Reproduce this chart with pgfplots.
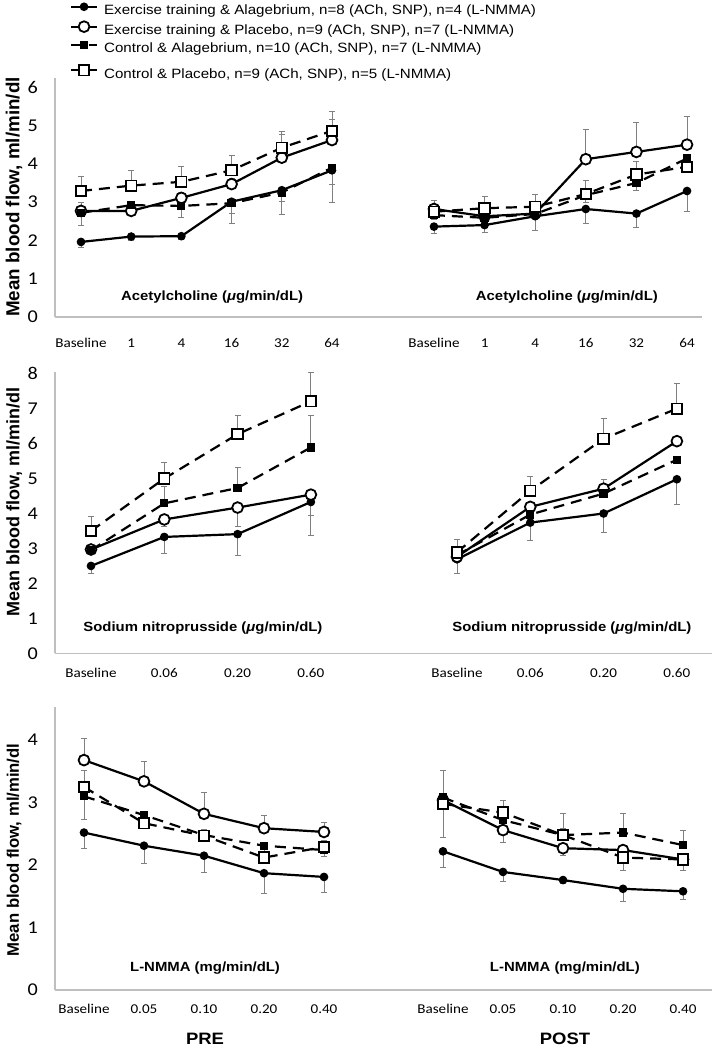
\documentclass[border=0pt]{standalone}
\usepackage{fontspec}
\setmainfont{Liberation Sans}[FakeStretch=1.12]
\newfontfamily\ylabfont{Liberation Sans}
\newfontfamily\calfont{Carlito}[FakeStretch=1.12]
\usepackage{pgfplots}
\pgfplotsset{compat=1.18}

\pgfplotsset{
  panel/.style={
    scale only axis, clip=false,
    axis x line*=bottom,
    axis line style={gray!50, line width=1.3pt},
    major tick length=0pt,
    tick style={draw=none},
    /pgf/number format/assume math mode=true,
    xticklabel style={font=\calfont\fontsize{13.5}{14}\selectfont, anchor=center},
    yticklabel style={font=\calfont\fontsize{18}{18}\selectfont, anchor=east, inner sep=0pt, xshift=-17pt},
    xlabel style={font=\bfseries\fontsize{13.3}{14}\selectfont, anchor=center},
    ylabel style={anchor=center},
    error bars/error bar style={solid, gray, line width=0.8pt},
    error bars/error mark options={solid, gray, rotate=90, mark size=3pt, line width=0.8pt},
    legend image code/.code={\draw[mark repeat=2, mark phase=2, #1] plot coordinates {(0pt,4.5pt) (13pt,4.5pt) (26pt,4.5pt)};},
  },
  leftp/.style={panel, axis y line*=left, width=305pt},
  rightp/.style={panel, axis y line=none, ytick=\empty},
  leg/.style={legend cell align=left, legend style={draw=none, fill=none, inner sep=0pt, outer sep=0pt,
    font=\fontsize{13.5}{14}\selectfont, row sep=3.5pt, column sep=6pt,
    nodes={inner sep=0pt, text height=10pt, text depth=3pt}, anchor=north west}},
  fcirc/.style={black, line width=2.2pt, mark=*, mark size=3.8pt, mark options={solid, fill=black, line width=1pt}},
  ocirc/.style={black, line width=2.2pt, mark=*, mark size=5.4pt, mark options={solid, fill=white, line width=1.8pt}},
  fsq/.style={black, line width=2.2pt, dash pattern=on 11pt off 7pt, mark=square*, mark size=3.6pt, mark options={solid, fill=black, line width=1pt}},
  osq/.style={black, line width=2.2pt, dash pattern=on 11pt off 7pt, mark=square*, mark size=5.2pt, mark options={solid, fill=white, line width=1.8pt}},
  ebp/.style={error bars/y dir=plus, error bars/y explicit},
  ebm/.style={error bars/y dir=minus, error bars/y explicit},
  ebb/.style={error bars/y dir=both, error bars/y explicit},
}

\begin{document}
\begin{tikzpicture}
\useasboundingbox (0,0) rectangle (715pt,-1049pt);

% ---------- Row 1: Acetylcholine ----------
\begin{axis}[leftp, leg, at={(55pt,-317pt)}, anchor=south west, height=239pt,
  xmin=-0.518, xmax=5.558, ymin=0, ymax=6.24, ytick={0,...,6},
  xtick={0,...,5}, xticklabels={Baseline,1,4,16,32,64}, xticklabel style={yshift=-26pt},
  xlabel={Acetylcholine ({\itshape μ}g/min/dL)}, xlabel style={at={(axis description cs:0.515,0.084)}},
  ylabel={Mean blood flow, ml/min/dl}, ylabel style={font=\ylabfont\bfseries\fontsize{18.8}{19}\selectfont, at={(axis description cs:-0.134,0.502)}},
  legend style={at={(axis description cs:0.049,1.314)}}]
\addplot[fcirc, ebm] coordinates {(0,1.96) +- (0,0.13) (1,2.10) +- (0,0.10) (2,2.11) +- (0,0.08) (3,3.01) +- (0,0.30) (4,3.31) +- (0,0.30) (5,3.83) +- (0,0.85)};
\addlegendentry{Exercise training \& Alagebrium, n=8 (ACh, SNP), n=4 (L-NMMA)}
\addplot[ocirc, ebp] coordinates {(0,2.77) +- (0,0.22) (1,2.77) +- (0,0.10) (2,3.11) +- (0,0.15) (3,3.47) +- (0,0.15) (4,4.16) +- (0,0.60) (5,4.62) +- (0,0.55)};
\addlegendentry{Exercise training \& Placebo, n=9 (ACh, SNP), n=7 (L-NMMA)}
\addplot[fsq, ebm] coordinates {(0,2.72) +- (0,0.34) (1,2.92) +- (0,0.12) (2,2.90) +- (0,0.31) (3,2.97) +- (0,0.53) (4,3.25) +- (0,0.57) (5,3.90) +- (0,0.45)};
\addlegendentry{Control \& Alagebrium, n=10 (ACh, SNP), n=7 (L-NMMA)}
\addplot[osq, ebp] coordinates {(0,3.29) +- (0,0.37) (1,3.43) +- (0,0.40) (2,3.53) +- (0,0.41) (3,3.83) +- (0,0.40) (4,4.42) +- (0,0.43) (5,4.86) +- (0,0.50)};
\end{axis}

\begin{axis}[rightp, leg, at={(360pt,-317pt)}, anchor=south west, width=342pt, height=239pt,
  xmin=-1.462, xmax=5.296, ymin=0, ymax=6.24,
  xtick={0,...,5}, xticklabels={Baseline,1,4,16,32,64}, xticklabel style={yshift=-26pt},
  xlabel={Acetylcholine ({\itshape μ}g/min/dL)}, xlabel style={at={(axis description cs:0.605,0.084)}},
  legend style={at={(axis description cs:-0.848,1.054)}}]
\addplot[fcirc, ebm, forget plot] coordinates {(0,2.36) +- (0,0.19) (1,2.40) +- (0,0.19) (2,2.63) +- (0,0.36) (3,2.82) +- (0,0.38) (4,2.70) +- (0,0.37) (5,3.29) +- (0,0.54)};
\addplot[ocirc, ebp, forget plot] coordinates {(0,2.82) +- (0,0.23) (1,2.63) +- (0,0.10) (2,2.70) +- (0,0.10) (3,4.12) +- (0,0.78) (4,4.31) +- (0,0.76) (5,4.50) +- (0,0.75)};
\addplot[fsq, ebm, forget plot] coordinates {(0,2.66) +- (0,0.10) (1,2.59) +- (0,0.10) (2,2.69) +- (0,0.10) (3,3.18) +- (0,0.20) (4,3.50) +- (0,0.20) (5,4.14) +- (0,0.20)};
\addplot[osq, ebp] coordinates {(0,2.75) +- (0,0.20) (1,2.84) +- (0,0.32) (2,2.88) +- (0,0.32) (3,3.21) +- (0,0.36) (4,3.72) +- (0,0.33) (5,3.92) +- (0,0.30)};
\addlegendentry{Control \& Placebo, n=9 (ACh, SNP), n=5 (L-NMMA)}
\end{axis}

% ---------- Row 2: Sodium nitroprusside ----------
\begin{axis}[leftp, at={(55pt,-653.3pt)}, anchor=south west, height=281pt,
  xmin=-0.491, xmax=3.670, ymin=0, ymax=8.04, ytick={0,...,8},
  xtick={0,...,3}, xticklabels={Baseline,0.06,0.20,0.60}, xticklabel style={yshift=-20pt},
  xlabel={Sodium nitroprusside ({\itshape μ}g/min/dL)}, xlabel style={at={(axis description cs:0.485,0.09)}},
  ylabel={Mean blood flow, ml/min/dl}, ylabel style={font=\ylabfont\bfseries\fontsize{18}{18}\selectfont, at={(axis description cs:-0.134,0.538)}}]
\addplot[fcirc, ebm] coordinates {(0,2.50) +- (0,0.21) (1,3.33) +- (0,0.47) (2,3.41) +- (0,0.60) (3,4.33) +- (0,0.95)};
\addplot[ocirc, ebm] coordinates {(0,2.97) +- (0,0.10) (1,3.83) +- (0,0.20) (2,4.17) +- (0,0.53) (3,4.54) +- (0,0.60)};
\addplot[fsq, ebp] coordinates {(0,2.95) +- (0,0.15) (1,4.29) +- (0,0.49) (2,4.73) +- (0,0.60) (3,5.89) +- (0,0.92)};
\addplot[osq, ebp] coordinates {(0,3.50) +- (0,0.42) (1,5.00) +- (0,0.46) (2,6.27) +- (0,0.54) (3,7.21) +- (0,0.84)};
\end{axis}

\begin{axis}[rightp, at={(360pt,-653.3pt)}, anchor=south west, width=352pt, height=281pt,
  xmin=-1.323, xmax=3.479, ymin=0, ymax=8.04,
  xtick={0,...,3}, xticklabels={Baseline,0.06,0.20,0.60}, xticklabel style={yshift=-20pt},
  xlabel={Sodium nitroprusside ({\itshape μ}g/min/dL)}, xlabel style={at={(axis description cs:0.602,0.09)}}]
\addplot[fcirc, ebm] coordinates {(0,2.69) +- (0,0.40) (1,3.74) +- (0,0.50) (2,4.00) +- (0,0.55) (3,4.98) +- (0,0.72)};
\addplot[ocirc, ebp] coordinates {(0,2.76) +- (0,0.10) (1,4.19) +- (0,0.10) (2,4.71) +- (0,0.27) (3,6.07) +- (0,0.10)};
\addplot[fsq, ebp] coordinates {(0,2.81) +- (0,0.10) (1,3.97) +- (0,0.10) (2,4.57) +- (0,0.10) (3,5.54) +- (0,0.10)};
\addplot[osq, ebp] coordinates {(0,2.89) +- (0,0.37) (1,4.65) +- (0,0.40) (2,6.14) +- (0,0.57) (3,7.00) +- (0,0.71)};
\end{axis}

% ---------- Row 3: L-NMMA ----------
\begin{axis}[leftp, at={(55pt,-990pt)}, anchor=south west, height=283pt,
  xmin=-0.483, xmax=4.6, ymin=0, ymax=4.53, ytick={0,...,4},
  xtick={0,...,4}, xticklabels={Baseline,0.05,0.10,0.20,0.40}, xticklabel style={yshift=-19pt},
  xlabel={L-NMMA (mg/min/dL)}, xlabel style={at={(axis description cs:0.492,0.078)}},
  ylabel={Mean blood flow, ml/min/dl}, ylabel style={font=\ylabfont\bfseries\fontsize{16.7}{17}\selectfont, at={(axis description cs:-0.134,0.495)}}]
\addplot[fcirc, ebm] coordinates {(0,2.52) +- (0,0.25) (1,2.31) +- (0,0.28) (2,2.15) +- (0,0.27) (3,1.87) +- (0,0.32) (4,1.81) +- (0,0.25)};
\addplot[ocirc, ebp] coordinates {(0,3.68) +- (0,0.35) (1,3.34) +- (0,0.32) (2,2.82) +- (0,0.34) (3,2.59) +- (0,0.20) (4,2.53) +- (0,0.16)};
\addplot[fsq, ebm] coordinates {(0,3.10) +- (0,0.37) (1,2.80) +- (0,0.10) (2,2.48) +- (0,0.10) (3,2.31) +- (0,0.10) (4,2.24) +- (0,0.10)};
\addplot[osq, ebp] coordinates {(0,3.25) +- (0,0.26) (1,2.67) +- (0,0.10) (2,2.47) +- (0,0.10) (3,2.12) +- (0,0.10) (4,2.29) +- (0,0.10)};
\end{axis}

\begin{axis}[rightp, at={(360pt,-990pt)}, anchor=south west, width=352pt, height=283pt,
  xmin=-1.383, xmax=4.483, ymin=0, ymax=4.53,
  xtick={0,...,4}, xticklabels={Baseline,0.05,0.10,0.20,0.40}, xticklabel style={yshift=-19pt},
  xlabel={L-NMMA (mg/min/dL)}, xlabel style={at={(axis description cs:0.582,0.078)}}]
\addplot[fcirc, ebm] coordinates {(0,2.22) +- (0,0.26) (1,1.89) +- (0,0.15) (2,1.76) +- (0,0.05) (3,1.62) +- (0,0.20) (4,1.58) +- (0,0.13)};
\addplot[ocirc, ebm] coordinates {(0,3.04) +- (0,0.10) (1,2.56) +- (0,0.20) (2,2.27) +- (0,0.11) (3,2.24) +- (0,0.10) (4,2.09) +- (0,0.10)};
\addplot[fsq, ebp] coordinates {(0,3.08) +- (0,0.44) (1,2.72) +- (0,0.10) (2,2.48) +- (0,0.10) (3,2.52) +- (0,0.30) (4,2.32) +- (0,0.24)};
\addplot[osq, ebb] coordinates {(0,2.98) += (0,0) -= (0,0.54) (1,2.84) += (0,0.20) -= (0,0) (2,2.48) += (0,0.34) -= (0,0) (3,2.12) += (0,0) -= (0,0.20) (4,2.09) += (0,0) -= (0,0.17)};
\end{axis}

\node[font=\bfseries\fontsize{16.5}{17}\selectfont] at (205pt,-1039pt) {PRE};
\node[font=\bfseries\fontsize{16.5}{17}\selectfont] at (565pt,-1039pt) {POST};
\end{tikzpicture}
\end{document}
